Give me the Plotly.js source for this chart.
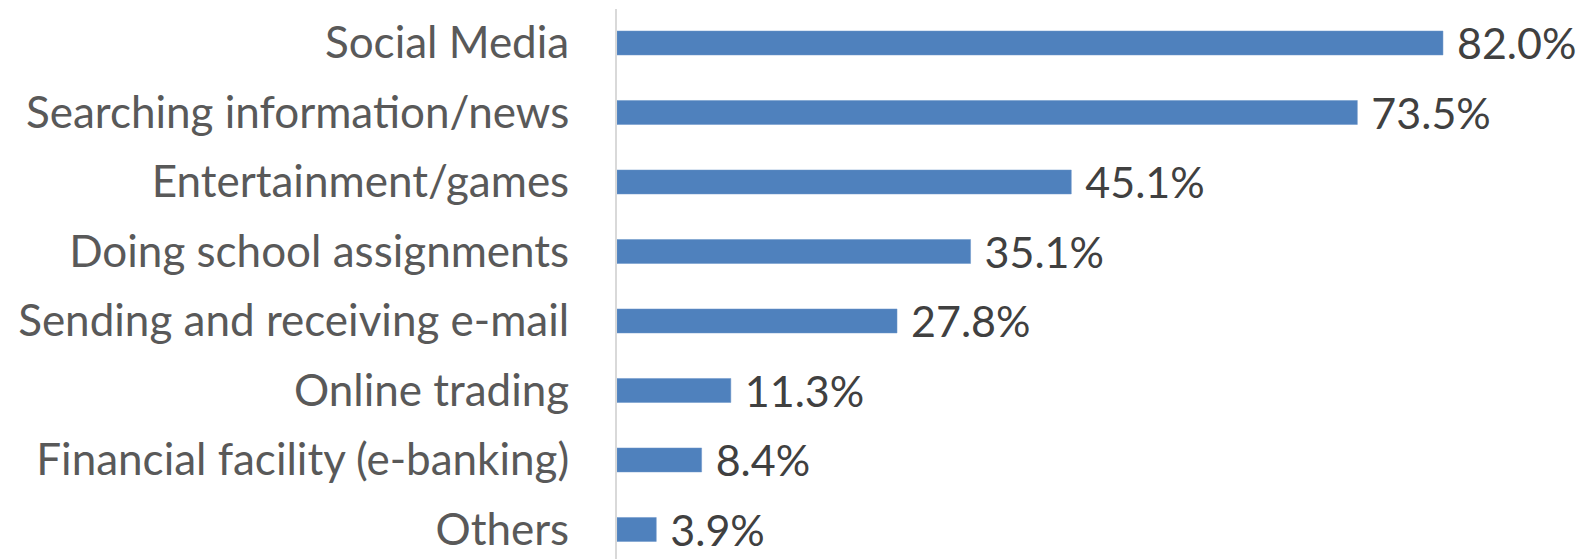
<!DOCTYPE html>
<html><head><meta charset="utf-8">
<script src="https://cdn.plot.ly/plotly-3.0.1.min.js"></script>
<style>html,body{margin:0;padding:0;background:#fff;}#chart{width:1587px;height:559px;}</style>
</head><body><div id="chart"></div>
<script>
const categories = ["Social Media","Searching information/news","Entertainment/games","Doing school assignments","Sending and receiving e-mail","Online trading","Financial facility (e-banking)","Others"];
const values = [82.0,73.5,45.1,35.1,27.8,11.3,8.4,3.9];

const cats = categories.slice().reverse();
const vals = values.slice().reverse();

const trace = {
  type: 'bar', orientation: 'h',
  x: vals, y: cats,
  width: 0.345,
  marker: {color: '#4f81bd', line: {color: '#6a95c9', width: 0.5}},
  texttemplate: '\u00a0%{x:.1f}%',
  textposition: 'outside',
  constraintext: 'none',
  cliponaxis: false,
  textfont: {family: 'Lato, sans-serif', size: 43, color: '#404040'},
  hoverinfo: 'none'
};
const layout = {
  width: 1587, height: 559,
  margin: {l: 617, r: 0, t: 9, b: 0},
  paper_bgcolor: '#fff', plot_bgcolor: '#fff',
  showlegend: false,
  xaxis: {range: [0, 96.3], visible: false, fixedrange: true},
  yaxis: {
    type: 'category', range: [-0.425, 7.489],
    showline: true, linecolor: '#d9d9d9', linewidth: 2,
    showgrid: false, zeroline: false, ticks: '',
    ticklabelstandoff: 37,
    tickfont: {family: 'Lato, sans-serif', size: 44, color: '#595959'}
  }
};
Plotly.newPlot('chart', [trace], layout, {staticPlot: true});
</script></body></html>
